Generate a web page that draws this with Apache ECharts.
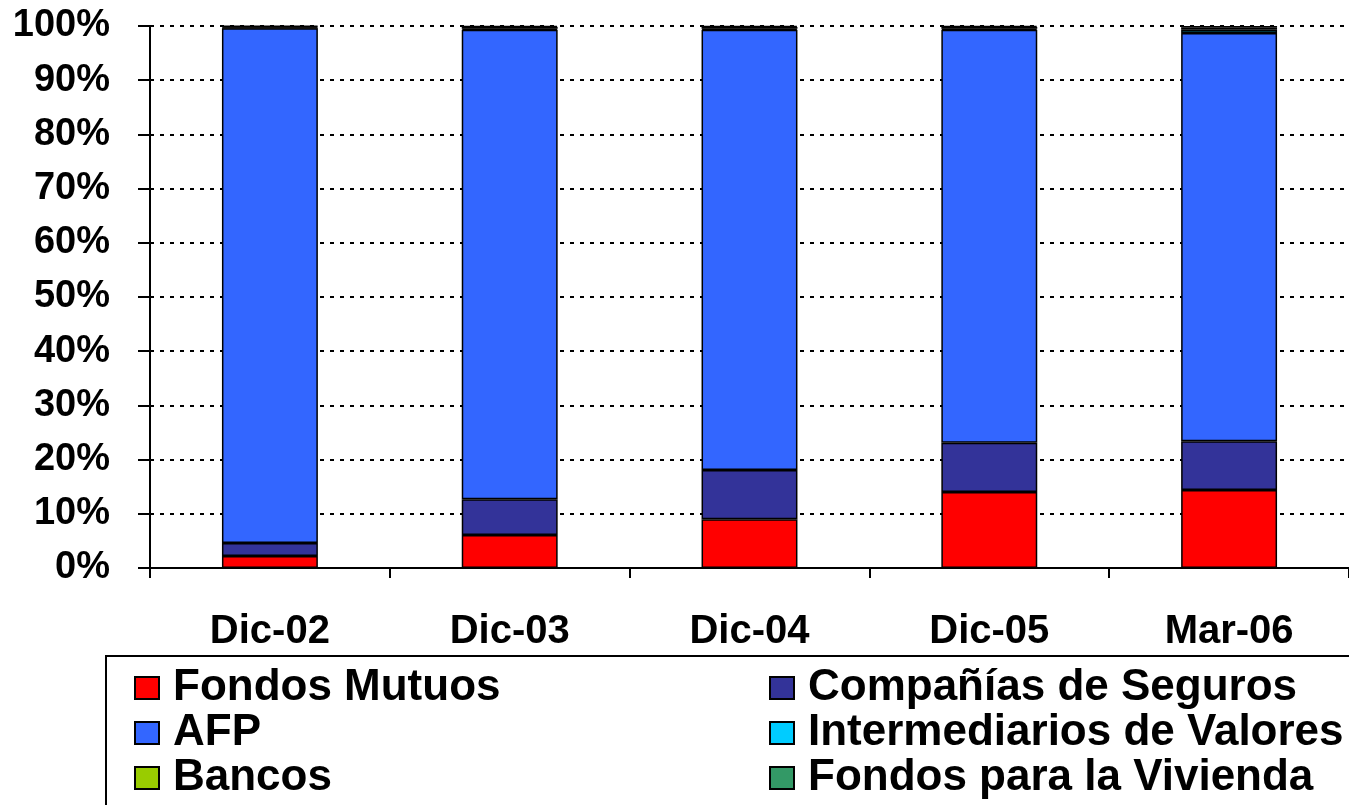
<!DOCTYPE html>
<html>
<head>
<meta charset="utf-8">
<script src="https://cdn.jsdelivr.net/npm/echarts@6/dist/echarts.min.js"></script>
<style>
  html, body { margin: 0; padding: 0; background: #fff; }
  #chart { width: 1349px; height: 805px; }
</style>
</head>
<body>
<div id="chart"></div>
<script>
// Periods and percentage share of each holder group
const categories = ['Dic-02', 'Dic-03', 'Dic-04', 'Dic-05', 'Mar-06'];
const fondosMutuos = [2.2, 6.1, 9.0, 14.0, 14.4];
const companiasSeguros = [2.4, 6.6, 9.1, 9.1, 9.0];
const afp = [95.0, 86.6, 81.2, 76.2, 75.3];
const intermediarios = [0.1, 0.2, 0.2, 0.2, 0.6];
const bancos = [0.2, 0.3, 0.3, 0.3, 0.4];
const fondosVivienda = [0.1, 0.2, 0.2, 0.2, 0.3];
const yTicks = [0, 10, 20, 30, 40, 50, 60, 70, 80, 90, 100];

const seriesDefs = [
  { name: 'Fondos Mutuos', data: fondosMutuos, color: '#ff0000' },
  { name: 'Compañías de Seguros', data: companiasSeguros, color: '#333399' },
  { name: 'AFP', data: afp, color: '#3366ff' },
  { name: 'Intermediarios de Valores', data: intermediarios, color: '#00ccff' },
  { name: 'Bancos', data: bancos, color: '#99cc00' },
  { name: 'Fondos para la Vivienda', data: fondosVivienda, color: '#339966' }
];

const font = 'Liberation Sans, Arial, sans-serif';
const chart = echarts.init(document.getElementById('chart'), null, { renderer: 'canvas' });

const legendText = {
  fontFamily: font, fontWeight: 'bold', fontSize: 44, color: '#000',
  padding: [0, 0, 0, 9]
};
const legendCommon = {
  orient: 'vertical', top: 666, height: 139, padding: 0, itemGap: 1, icon: 'rect',
  itemWidth: 24, itemHeight: 22, textStyle: legendText,
  itemStyle: { borderColor: '#000', borderWidth: 2 }
};

chart.setOption({
  animation: false,
  backgroundColor: '#fff',
  grid: { left: 150, top: 26, width: 1203, height: 542, containLabel: false },
  xAxis: {
    type: 'category',
    data: categories,
    axisLine: { show: true, lineStyle: { color: '#000', width: 2 } },
    axisTick: { show: true, length: 10, lineStyle: { color: '#000', width: 2 }, alignWithLabel: false },
    axisLabel: { fontFamily: font, fontWeight: 'bold', fontSize: 40, color: '#000', margin: 44 }
  },
  yAxis: {
    type: 'value',
    min: 0,
    max: 100,
    interval: 10,
    axisLine: { show: true, lineStyle: { color: '#000', width: 2 } },
    axisTick: { show: true, length: 12, lineStyle: { color: '#000', width: 2 } },
    axisLabel: {
      fontFamily: font, fontWeight: 'bold', fontSize: 38, color: '#000', margin: 40,
      formatter: v => (yTicks.includes(v) ? v + '%' : '')
    },
    splitLine: { show: true, lineStyle: { color: '#000', type: [4, 6], width: 2 } }
  },
  legend: [
    Object.assign({ data: ['Fondos Mutuos', 'AFP', 'Bancos'], left: 134 }, legendCommon),
    Object.assign({ data: ['Compañías de Seguros', 'Intermediarios de Valores', 'Fondos para la Vivienda'], left: 769 }, legendCommon)
  ],
  graphic: [
    {
      type: 'rect', left: 105, top: 655, z: -1,
      shape: { width: 1300, height: 200 },
      style: { fill: '#fff', stroke: '#000', lineWidth: 2 }
    }
  ],
  series: seriesDefs.map(s => ({
    name: s.name,
    type: 'bar',
    stack: 'total',
    barWidth: '40%',
    data: s.data,
    itemStyle: { color: s.color, borderColor: '#000', borderWidth: 1.5 },
    emphasis: { disabled: true }
  }))
});
</script>
</body>
</html>
